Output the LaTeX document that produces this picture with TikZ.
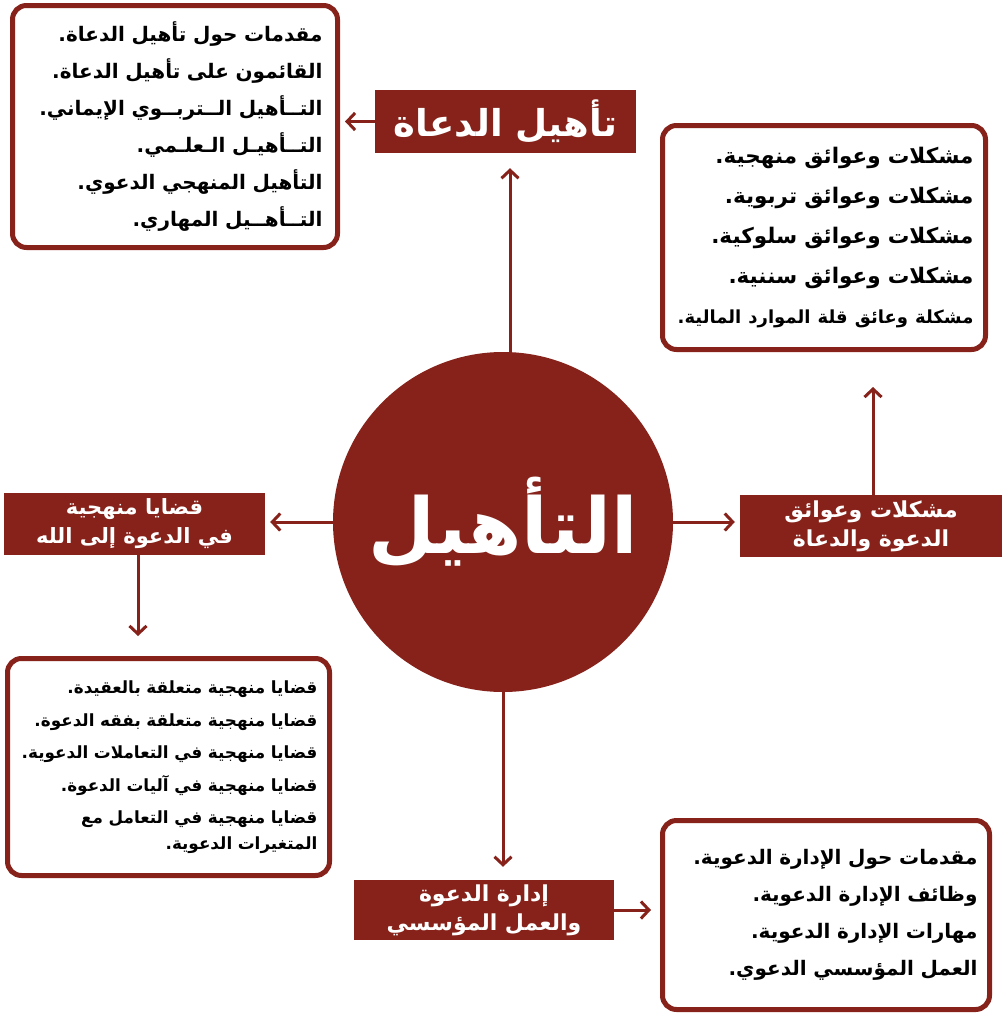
\documentclass[tikz,border=0pt]{standalone}
\usepackage{fontspec}
\newfontfamily\arabicfont[Script=Arabic]{DejaVu Sans}
\TeXXeTstate=1
\usetikzlibrary{arrows.meta}
\definecolor{darkred}{RGB}{134,34,26}
\tikzset{
  lbl/.style={fill=darkred,text=white,align=center,inner sep=0pt,
    font=\arabicfont\bfseries\fontsize{22}{29}\selectfont},
  listbox/.style={draw=darkred,line width=5pt,rounded corners=14pt,fill=white,
    align=right,inner xsep=12pt,inner ysep=0pt,
    font=\arabicfont\bfseries\fontsize{20}{37}\selectfont},
  arr/.style={darkred,line width=3pt,-{Straight Barb[length=8pt,width=17pt]}}
}
\begin{document}
\begin{tikzpicture}[x=1pt,y=-1pt]
\useasboundingbox (0,0) rectangle (1002,1015);
% centre
\node[circle,fill=darkred,minimum size=340pt,inner sep=0pt,text=white,
  font=\arabicfont\bfseries\fontsize{77}{80}\selectfont] (core) at (503,522) {\raisebox{6pt}{\beginR التأهيل\endR}};
% labels
\node[lbl,minimum width=261pt,minimum height=63pt,font=\arabicfont\bfseries\fontsize{37}{40}\selectfont]
  (dueat) at (505.5,121.5) {\beginR تأهيل الدعاة\endR};
\node[lbl,minimum width=262pt,minimum height=62pt] (mashakil) at (871,526)
  {\beginR مشكلات وعوائق\endR\\\beginR الدعوة والدعاة\endR};
\node[lbl,minimum width=261pt,minimum height=62pt,
  font=\arabicfont\bfseries\fontsize{21}{29}\selectfont] (qadaya) at (134.5,524)
  {\beginR قضايا منهجية\endR\\\beginR في الدعوة إلى الله\endR};
\node[lbl,minimum width=260pt,minimum height=60pt] (idara) at (484,910)
  {\beginR إدارة الدعوة\endR\\\beginR والعمل المؤسسي\endR};
% lists
\node[listbox,inner xsep=15pt,text width=295pt,minimum height=242pt] (dueatlist) at (175,126.5)
  {\beginR مقدمات حول تأهيل الدعاة.\endR\\
   \beginR القائمون على تأهيل الدعاة.\endR\\
   \beginR التــأهيل الــتربــوي الإيماني.\endR\\
   \beginR التــأهيـل الـعلـمي.\endR\\
   \beginR التأهيل المنهجي الدعوي.\endR\\
   \beginR التــأهــيل المهاري.\endR};
\node[listbox,text width=299pt,minimum height=224pt,
  font=\arabicfont\bfseries\fontsize{21.5}{40}\selectfont] (mashakillist) at (824,237.5)
  {\beginR مشكلات وعوائق منهجية.\endR\\
   \beginR مشكلات وعوائق تربوية.\endR\\
   \beginR مشكلات وعوائق سلوكية.\endR\\
   \beginR مشكلات وعوائق سننية.\endR\\
   {\fontsize{18}{40}\selectfont\beginR مشكلة وعائق قلة الموارد المالية.\endR}};
\node[listbox,text width=298pt,minimum height=217pt,
  font=\arabicfont\bfseries\fontsize{16.8}{32.5}\selectfont] (qadayalist) at (168.5,767)
  {\beginR قضايا منهجية متعلقة بالعقيدة.\endR\\
   \beginR قضايا منهجية متعلقة بفقه الدعوة.\endR\\
   \beginR قضايا منهجية في التعاملات الدعوية.\endR\\
   \beginR قضايا منهجية في آليات الدعوة.\endR\\
   \beginR قضايا منهجية في التعامل مع\endR\\[-7pt]
   \beginR المتغيرات الدعوية.\endR};
\node[listbox,text width=303pt,minimum height=189pt] (idaralist) at (826,915)
  {\beginR مقدمات حول الإدارة الدعوية.\endR\\
   \beginR وظائف الإدارة الدعوية.\endR\\
   \beginR مهارات الإدارة الدعوية.\endR\\
   \beginR العمل المؤسسي الدعوي.\endR};
% connectors
\draw[arr,shorten >=15pt] (core.north -| 510,0) -- (510,0 |- dueat.south);
\draw[arr,shorten >=5pt] (dueat.west) -- (dueat.west -| dueatlist.east);
\draw[arr,shorten >=5pt] (core.east) -- (core.east -| mashakil.west);
\draw[arr,shorten >=35pt] (mashakil.north -| 873,0) -- (873,0 |- mashakillist.south);
\draw[arr,shorten >=5pt] (core.west) -- (core.west -| qadaya.east);
\draw[arr,shorten >=20pt] (qadaya.south -| 138,0) -- (138,0 |- qadayalist.north);
\draw[arr,shorten >=13pt] (core.south) -- (core.south |- idara.north);
\draw[arr,shorten >=9pt] (idara.east) -- (idara.east -| idaralist.west);
\end{tikzpicture}
\end{document}
